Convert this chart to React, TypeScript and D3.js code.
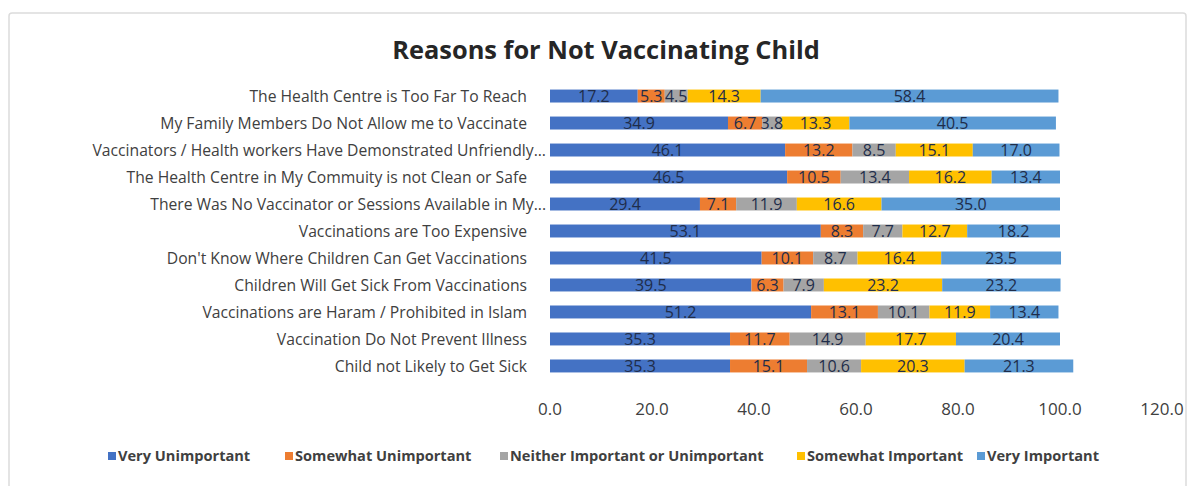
import React from "react";
import * as d3 from "d3";

const categories = [
  "The Health Centre is Too Far To Reach",
  "My Family Members Do Not Allow me to Vaccinate",
  "Vaccinators / Health workers Have Demonstrated Unfriendly...",
  "The Health Centre in My Commuity is not Clean or Safe",
  "There Was No Vaccinator or Sessions Available in My...",
  "Vaccinations are Too Expensive",
  "Don't Know Where Children Can Get Vaccinations",
  "Children Will Get Sick From Vaccinations",
  "Vaccinations are Haram / Prohibited in Islam",
  "Vaccination Do Not Prevent Illness",
  "Child not Likely to Get Sick",
];

const veryUnimportant = [17.2, 34.9, 46.1, 46.5, 29.4, 53.1, 41.5, 39.5, 51.2, 35.3, 35.3];
const somewhatUnimportant = [5.3, 6.7, 13.2, 10.5, 7.1, 8.3, 10.1, 6.3, 13.1, 11.7, 15.1];
const neither = [4.5, 3.8, 8.5, 13.4, 11.9, 7.7, 8.7, 7.9, 10.1, 14.9, 10.6];
const somewhatImportant = [14.3, 13.3, 15.1, 16.2, 16.6, 12.7, 16.4, 23.2, 11.9, 17.7, 20.3];
const veryImportant = [58.4, 40.5, 17.0, 13.4, 35.0, 18.2, 23.5, 23.2, 13.4, 20.4, 21.3];

const seriesNames = [
  "Very Unimportant",
  "Somewhat Unimportant",
  "Neither Important or Unimportant",
  "Somewhat Important",
  "Very Important",
];
const seriesValues = [veryUnimportant, somewhatUnimportant, neither, somewhatImportant, veryImportant];
const colors = ["#4472C4", "#ED7D31", "#A5A5A5", "#FFC000", "#5B9BD5"];
const xTicks = [0, 20, 40, 60, 80, 100, 120];

const W = 1189;
const H = 486;
const FONT = "'Open Sans', Lato, sans-serif";

export default function App() {
  const x = d3.scaleLinear().domain([0, 120]).range([550, 1162]);
  const y = d3.scaleBand<string>().domain(categories).range([82, 380]).paddingInner(0.52).paddingOuter(0.28);

  const rows = categories.map((c, i) => {
    let acc = 0;
    return seriesValues.map((s, k) => {
      const v = s[i];
      const seg = { k, x0: acc, x1: acc + v, v };
      acc += v;
      return seg;
    });
  });

  const legendX = [108, 285, 500, 797, 977];

  return (
    <svg
      width={W}
      height={H}
      style={{ position: "absolute", left: 0, top: 0, background: "#fff" }}
      fontFamily={FONT}
    >
      <rect x={9} y={13} width={1177} height={490} rx={3} fill="#fff" stroke="#dcdcdc" strokeWidth={1.5} />
      <text x={606} y={59} textAnchor="middle" fontSize={25.4} fontWeight="bold" fill="#262626">
        Reasons for Not Vaccinating Child
      </text>

      {categories.map((c, i) => {
        const yy = y(c)!;
        const bh = y.bandwidth();
        const truncated = c.endsWith("...");
        return (
          <g key={c}>
            <text
              x={truncated ? 546 : 527}
              y={yy + bh / 2}
              dy="0.36em"
              textAnchor="end"
              fontSize={15.7}
              fill="#404040"
            >
              {c}
            </text>
            {rows[i].map((s) => (
              <rect key={s.k} x={x(s.x0)} y={yy} width={x(s.x1) - x(s.x0)} height={bh} fill={colors[s.k]} />
            ))}
            {rows[i].map((s) => (
              <text
                key={"t" + s.k}
                x={(x(s.x0) + x(s.x1)) / 2}
                y={yy + bh / 2}
                dy="0.36em"
                textAnchor="middle"
                fontSize={16}
                fill="#1f2d4a"
              >
                {s.v.toFixed(1)}
              </text>
            ))}
          </g>
        );
      })}

      {xTicks.map((t) => (
        <text key={t} x={x(t)} y={415} textAnchor="middle" fontSize={17} fill="#404040">
          {t.toFixed(1)}
        </text>
      ))}

      {seriesNames.map((n, k) => (
        <g key={n}>
          <rect x={legendX[k]} y={452} width={8} height={8} fill={colors[k]} />
          <text x={legendX[k] + 10} y={456} dy="0.36em" fontSize={14.6} fontWeight="bold" fill="#404040">
            {n}
          </text>
        </g>
      ))}
    </svg>
  );
}
